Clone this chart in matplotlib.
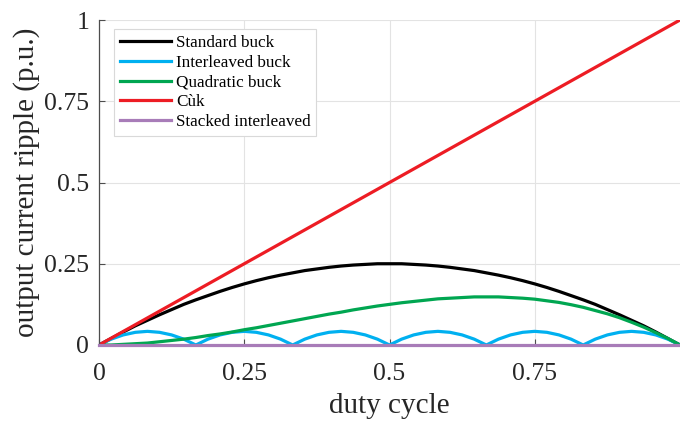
import numpy as np
import matplotlib.pyplot as plt

plt.rcParams['font.family'] = ['Liberation Serif', 'DejaVu Serif']

# duty cycle grid (step 1/48)
duty = np.linspace(0, 1, 49)

# standard buck ripple
std_buck = [0.000, 0.020, 0.040, 0.059, 0.076, 0.093, 0.109, 0.125, 0.139,
            0.152, 0.165, 0.177, 0.188, 0.198, 0.207, 0.215, 0.222, 0.229,
            0.234, 0.239, 0.243, 0.246, 0.248, 0.250, 0.250, 0.250, 0.248,
            0.246, 0.243, 0.239, 0.234, 0.229, 0.222, 0.215, 0.207, 0.198,
            0.188, 0.177, 0.165, 0.152, 0.139, 0.125, 0.109, 0.093, 0.076,
            0.059, 0.040, 0.020, 0.000]

# interleaved buck (six arches)
arch = [0.000, 0.018, 0.031, 0.039, 0.042, 0.039, 0.031, 0.018]
interleaved = arch * 6 + [0.000]

# quadratic buck
quad_buck = [0.000, 0.000, 0.002, 0.004, 0.006, 0.010, 0.014, 0.018, 0.023,
             0.029, 0.034, 0.040, 0.047, 0.053, 0.060, 0.067, 0.074, 0.081,
             0.088, 0.095, 0.101, 0.108, 0.114, 0.120, 0.125, 0.130, 0.134,
             0.138, 0.142, 0.144, 0.146, 0.148, 0.148, 0.148, 0.146, 0.144,
             0.141, 0.136, 0.131, 0.124, 0.116, 0.106, 0.096, 0.084, 0.070,
             0.055, 0.038, 0.020, 0.000]

# Cuk and stacked interleaved
cuk_duty = [0, 1]
cuk = [0, 1]
stacked_duty = [0, 1]
stacked = [0, 0]

fig = plt.figure(figsize=(6.8, 4.23), dpi=100)
ax = fig.add_axes([0.1456, 0.1844, 0.8544, 0.7683])

lw = 2.3
ax.plot(duty, std_buck, color='#000000', lw=lw, label='Standard buck')
ax.plot(duty, interleaved, color='#00b0f0', lw=lw, label='Interleaved buck')
ax.plot(duty, quad_buck, color='#00a651', lw=lw, label='Quadratic buck')
ax.plot(cuk_duty, cuk, color='#ed1c24', lw=lw, label='Cùk')
ax.plot(stacked_duty, stacked, color='#a87cb8', lw=lw, label='Stacked interleaved',
        clip_on=False, zorder=5)

ax.set_xlim(0, 1)
ax.set_ylim(0, 1)
ax.set_xticks([0, 0.25, 0.5, 0.75])
ax.set_xticklabels(['0', '0.25', '0.5', '0.75'])
ax.set_yticks([0, 0.25, 0.5, 0.75, 1])
ax.set_yticklabels(['0', '0.25', '0.5', '0.75', '1'])
ax.tick_params(direction='in', length=4, width=0.8, colors='#4d4d4d',
               labelcolor='#262626', labelsize=18.5)
ax.tick_params(axis='x', pad=13)
ax.tick_params(axis='y', pad=7)

for s in ['top', 'right']:
    ax.spines[s].set_visible(False)
for s in ['left', 'bottom']:
    ax.spines[s].set_color('#4d4d4d')
    ax.spines[s].set_linewidth(0.9)

ax.grid(True, color='#e3e3e3', lw=0.8)
ax.set_axisbelow(True)

ax.set_xlabel('duty cycle', fontsize=21, color='#262626', labelpad=6)
ax.set_ylabel('output current ripple (p.u.)', fontsize=21, color='#262626', labelpad=3)

leg = ax.legend(loc='upper left', bbox_to_anchor=(0.025, 0.972), fontsize=12.3,
                fancybox=False, framealpha=1, edgecolor='#d9d9d9',
                handlelength=3.0, handletextpad=0.3, labelspacing=0.22,
                borderpad=0.35, borderaxespad=0)
leg.get_frame().set_linewidth(0.8)

fig.savefig('out.png', dpi=100)
